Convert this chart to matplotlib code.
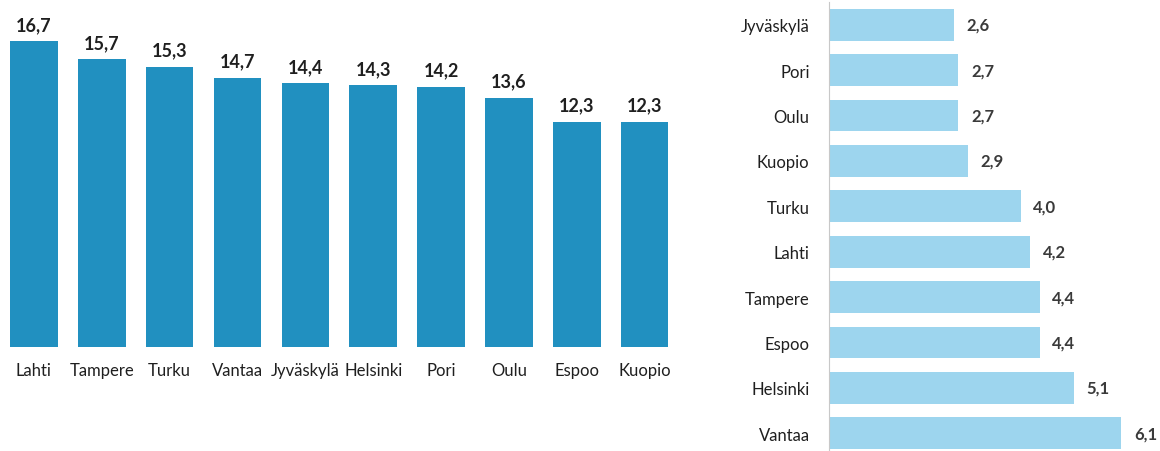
import matplotlib.pyplot as plt

# Data
left_cities = ['Lahti', 'Tampere', 'Turku', 'Vantaa', 'Jyväskylä',
               'Helsinki', 'Pori', 'Oulu', 'Espoo', 'Kuopio']
left_values = [16.7, 15.7, 15.3, 14.7, 14.4, 14.3, 14.2, 13.6, 12.3, 12.3]

right_cities = ['Jyväskylä', 'Pori', 'Oulu', 'Kuopio', 'Turku',
                'Lahti', 'Tampere', 'Espoo', 'Helsinki', 'Vantaa']
right_values = [2.6, 2.7, 2.7, 2.9, 4.0, 4.2, 4.4, 4.4, 5.1, 6.1]

plt.rcParams['font.family'] = ['Lato', 'DejaVu Sans']
dark = '#1f1f1f'


def fmt(v):
    return f'{v:.1f}'.replace('.', ',')


fig = plt.figure(figsize=(11.6, 4.52), dpi=100)

# Left: vertical bars
ax1 = fig.add_axes([0.0, 0.230, 0.585, 0.770])
x = range(len(left_cities))
ax1.bar(x, left_values, width=0.7, color='#2190C0')
ax1.set_xlim(-0.5, len(left_cities) - 0.5)
ax1.set_ylim(0, 19)
ax1.set_xticks(list(x))
ax1.set_xticklabels(left_cities, fontsize=12, color=dark)
ax1.tick_params(axis='x', length=0, pad=11)
ax1.set_yticks([])
for s in ax1.spines.values():
    s.set_visible(False)
for i, v in enumerate(left_values):
    ax1.annotate(fmt(v), (i, v), xytext=(0, 6), textcoords='offset points',
                 ha='center', va='bottom', fontsize=13, fontweight='bold', color=dark)

# Right: horizontal bars
ax2 = fig.add_axes([0.7147, -0.011, 0.281, 1.004])
y = range(len(right_cities))
ax2.barh(y, right_values, height=0.7, color='#9DD5EE')
ax2.set_ylim(len(right_cities) - 0.5, -0.5)
ax2.set_xlim(0, 6.8)
ax2.set_yticks(list(y))
ax2.set_yticklabels(right_cities, fontsize=12, color=dark)
ax2.tick_params(axis='y', length=0, pad=14)
ax2.set_xticks([])
for k in ['top', 'right', 'bottom']:
    ax2.spines[k].set_visible(False)
ax2.spines['left'].set_color('#c8c8c8')
for i, v in enumerate(right_values):
    ax2.annotate(fmt(v), (v, i), xytext=(9, 0), textcoords='offset points',
                 ha='left', va='center', fontsize=12, fontweight='bold', color='#3a3a3a')

fig.savefig('out.png', dpi=100)
